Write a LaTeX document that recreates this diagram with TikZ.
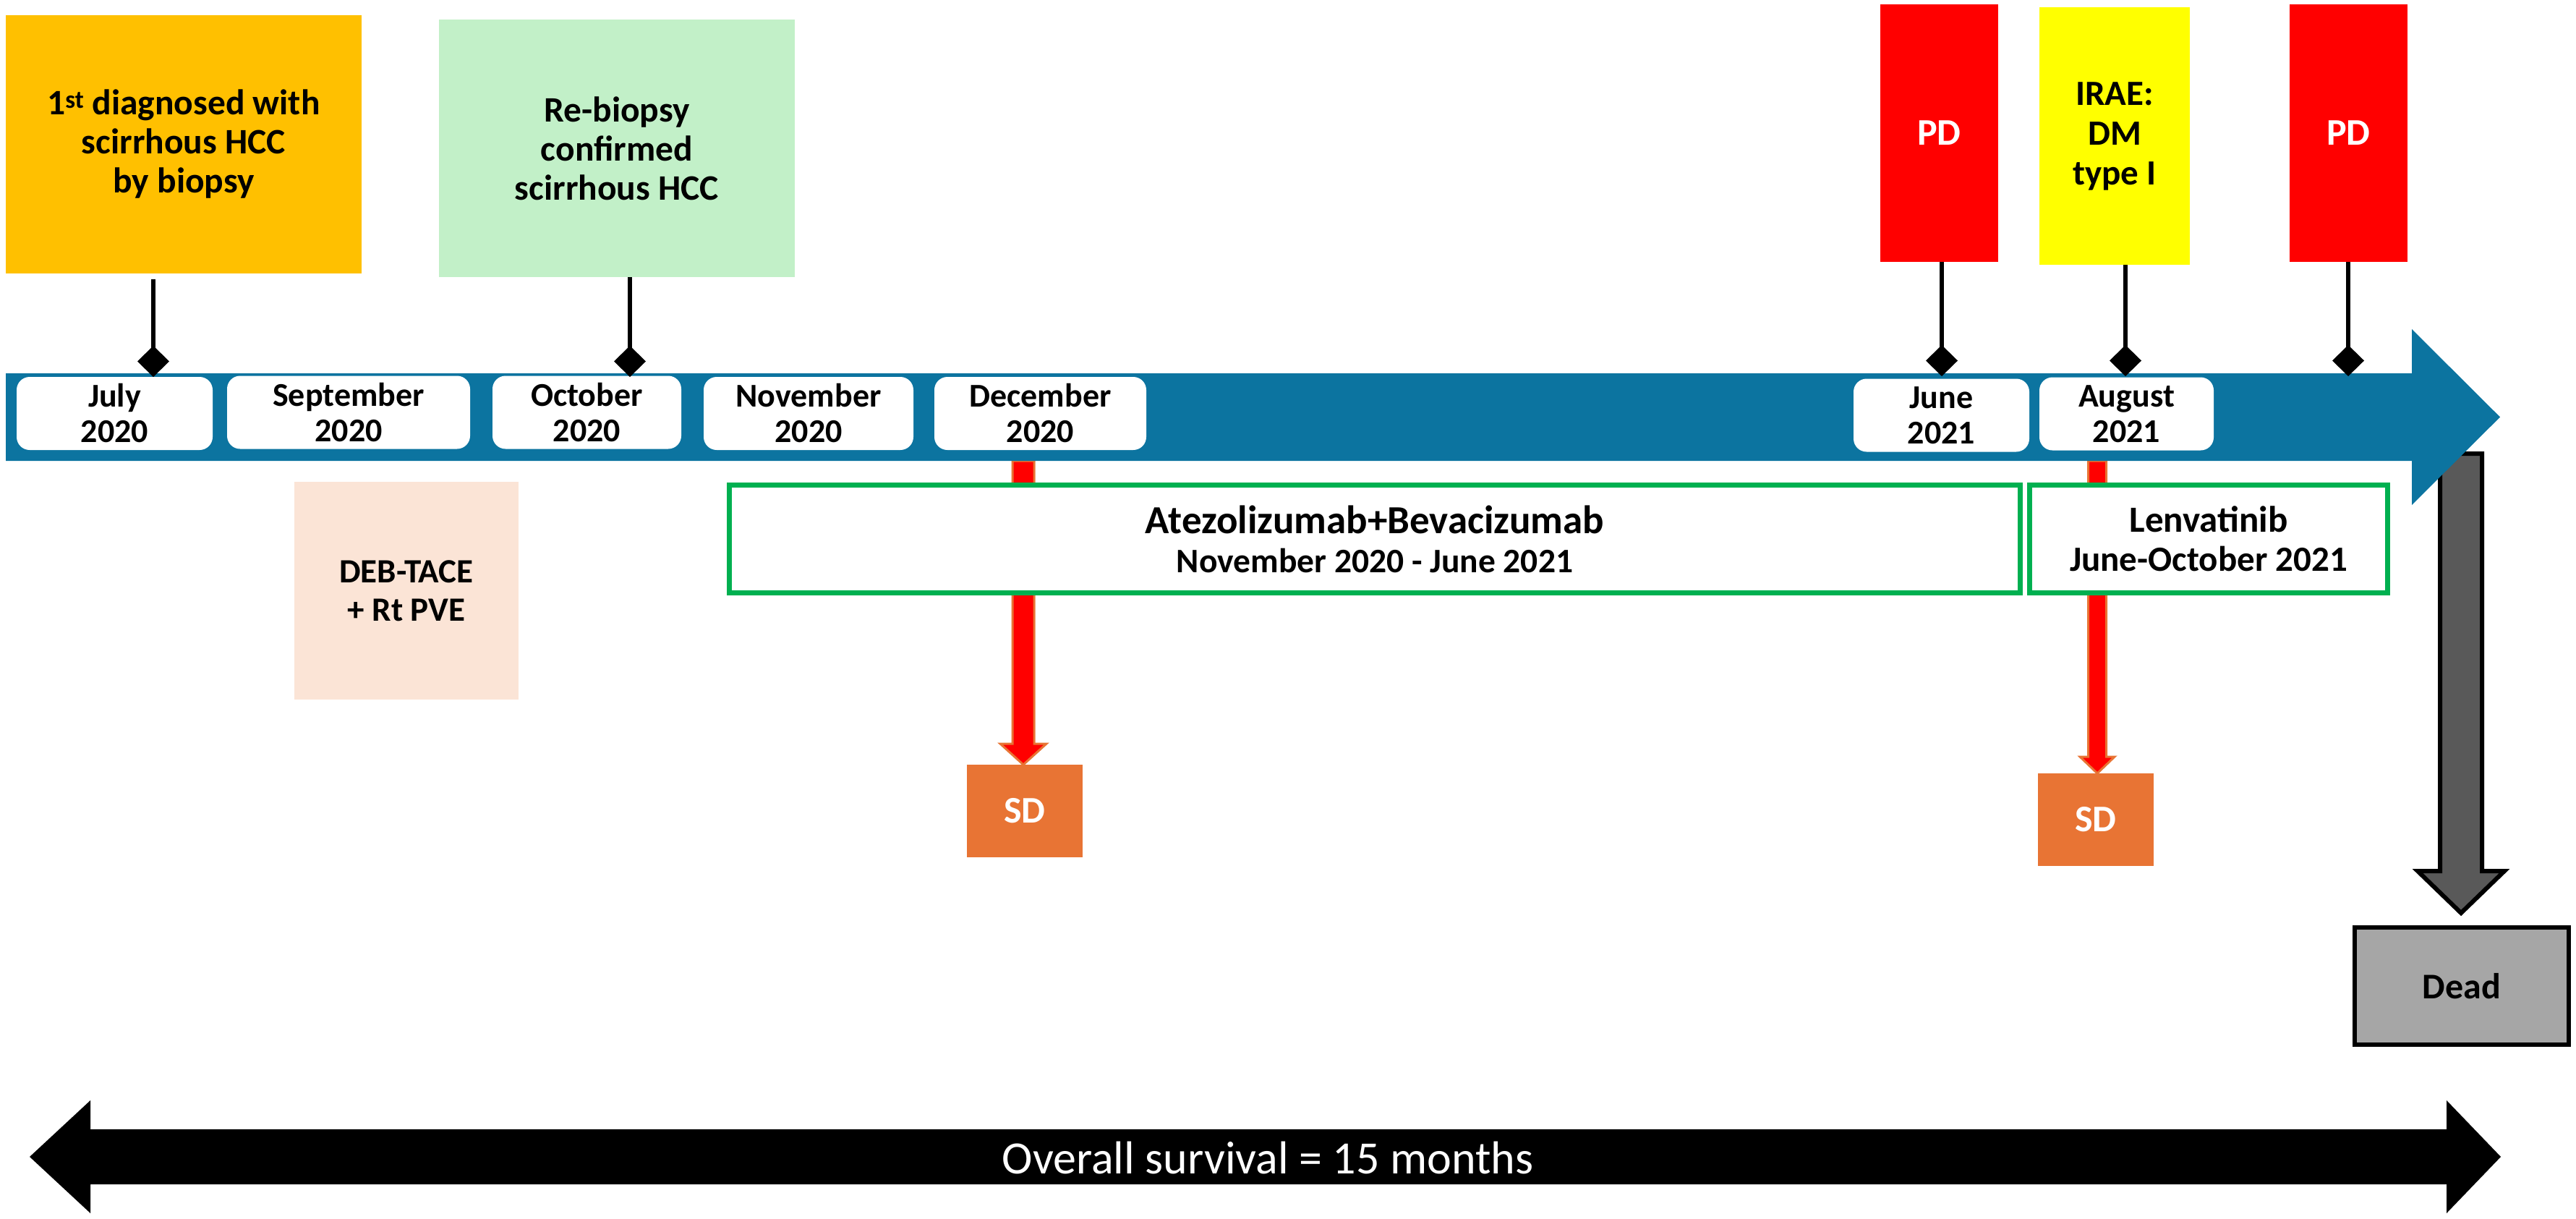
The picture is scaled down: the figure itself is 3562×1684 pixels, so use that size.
\documentclass[tikz,border=0pt]{standalone}
\usepackage{fontspec}
\setmainfont{Carlito}
\usetikzlibrary{arrows.meta,calc}
\definecolor{cOrange}{RGB}{255,192,0}
\definecolor{cMint}{RGB}{194,240,200}
\definecolor{cPeach}{RGB}{251,228,214}
\definecolor{cBlue}{RGB}{12,116,160}
\definecolor{cGreen}{RGB}{0,176,80}
\definecolor{cSD}{RGB}{232,116,52}
\definecolor{cRed}{RGB}{255,0,0}
\definecolor{cYellow}{RGB}{255,255,0}
\definecolor{cDarkGray}{RGB}{89,89,89}
\definecolor{cGray}{RGB}{166,166,166}
% block arrow pointing down: #1 style, #2 from, #3 to, #4 shaft half width, #5 head half width, #6 head length
\newcommand\blkdown[6]{%
  \path[#1] let \p1=(#2), \p2=(#3) in
    (\x1-#4,\y1) -- (\x1+#4,\y1) -- (\x1+#4,\y2+#6) -- (\x1+#5,\y2+#6) --
    (\x1,\y2) -- (\x1-#5,\y2+#6) -- (\x1-#4,\y2+#6) -- cycle;}
\tikzset{
  every node/.style={inner sep=0pt,outer sep=0pt,align=center},
  evtext/.style={font=\bfseries\fontsize{49.5}{54}\selectfont},
  datebox/.style={fill=white, rounded corners=18pt, minimum height=101pt,
    font=\bfseries\fontsize{46}{49}\selectfont},
  stemline/.style={line width=6pt, -{Diamond[length=43pt,width=44pt,line width=1pt]}},
  treatbox/.style={draw=cGreen, line width=7pt, fill=white, minimum height=149pt,
    font=\bfseries\fontsize{47.5}{54}\selectfont},
  sdbox/.style={fill=cSD, text=white, minimum width=160pt, minimum height=128pt,
    font=\bfseries\fontsize{52}{55}\selectfont},
  pdbox/.style={fill=cRed, text=white, minimum width=163pt, minimum height=356pt,
    font=\bfseries\fontsize{52}{55}\selectfont},
  redarr/.style={fill=cRed, draw=cSD, line width=3pt},
  grayarr/.style={fill=cDarkGray, draw=black, line width=6pt, line join=miter},
}
\begin{document}
\begin{tikzpicture}[x=1pt,y=-1pt]
\useasboundingbox (0,0) rectangle (3562,1684);
% points on the timeline
\coordinate (julyd) at (212,521);
\coordinate (octd) at (871,521);
\coordinate (jund) at (2685,520);
\coordinate (augd) at (2939,520);
\coordinate (pdtwod) at (3247,520);
\coordinate (decb) at (1415,637);
\coordinate (augb) at (2900,637);
\coordinate (deadtop) at (3403,627);
% outcome boxes
\node[sdbox] (sd1) at (1417,1121) {SD};
\node[sdbox] (sd2) at (2898,1133) {SD};
\node[fill=cGray, draw=black, line width=6pt, minimum width=296pt, minimum height=162pt,
  font=\bfseries\fontsize{50}{55}\selectfont] (dead) at (3404,1363) {Dead};
% block arrows
\blkdown{redarr}{decb}{sd1.north}{15pt}{32pt}{29pt}
\blkdown{redarr}{augb}{sd2.north}{12.5pt}{24pt}{23pt}
\blkdown{grayarr}{deadtop}{$(dead.north)+(0,-20)$}{29pt}{60pt}{58pt}
% main timeline arrow
\fill[cBlue] (8,516) -- (3335,516) -- (3335,455) -- (3457,576.5) -- (3335,698)
  -- (3335,637) -- (8,637) -- cycle;
% date labels
\node[datebox, minimum width=271pt] (jul) at (158.5,571.5) {July\\2020};
\node[datebox, minimum width=336pt] (sep) at (482,570) {September\\2020};
\node[datebox, minimum width=261pt] (oct) at (811.5,570) {October\\2020};
\node[datebox, minimum width=290pt] (nov) at (1118,571.5) {November\\2020};
\node[datebox, minimum width=293pt] (dec) at (1438.5,571.5) {December\\2020};
\node[datebox, minimum width=243pt] (jun) at (2684.5,574) {June\\2021};
\node[datebox, minimum width=241pt] (aug) at (2940.5,572) {August\\2021};
% event boxes
\node[fill=cOrange, minimum width=492pt, minimum height=357pt, evtext] (diag) at (254,199.5)
  {1\textsuperscript{st} diagnosed with\\scirrhous HCC\\by biopsy};
\node[fill=cMint, minimum width=492pt, minimum height=356pt, evtext] (rebx) at (853,205)
  {Re-biopsy\\confirmed\\scirrhous HCC};
\node[fill=cPeach, minimum width=310pt, minimum height=301pt,
  font=\bfseries\fontsize{47}{53}\selectfont] (tace) at (562,816.5) {DEB-TACE\\+ Rt PVE};
\node[pdbox] (pd1) at (2681.5,184) {PD};
\node[fill=cYellow, minimum width=208pt, minimum height=356pt,
  font=\bfseries\fontsize{49}{55}\selectfont] (irae) at (2924,188) {IRAE:\\DM\\type I};
\node[pdbox] (pd2) at (3247.5,184) {PD};
% stems
\draw[stemline] ($(julyd |- diag.south)+(0,8)$) -- (julyd);
\draw[stemline] (octd |- rebx.south) -- (octd);
\draw[stemline] (jund |- pd1.south) -- (jund);
\draw[stemline] (augd |- irae.south) -- (augd);
\draw[stemline] (pdtwod |- pd2.south) -- (pdtwod);
% treatments
\node[treatbox, minimum width=1785pt] (atezo) at (1901,745)
  {{\fontsize{55}{54}\selectfont Atezolizumab+Bevacizumab}\\November 2020 - June 2021};
\node[treatbox, minimum width=495pt] (lenv) at (3054,745)
  {{\fontsize{51}{54}\selectfont Lenvatinib}\\{\fontsize{49}{54}\selectfont June-October 2021}};
% overall survival
\fill[black] (41,1599) -- (125,1521) -- (125,1561) -- (3383,1561) -- (3383,1521)
  -- (3458,1599) -- (3383,1677) -- (3383,1637) -- (125,1637) -- (125,1677) -- cycle;
\node[text=white, font=\fontsize{64}{70}\selectfont] (os) at (1753,1600)
  {Overall survival = 15 months};
\end{tikzpicture}
\end{document}
